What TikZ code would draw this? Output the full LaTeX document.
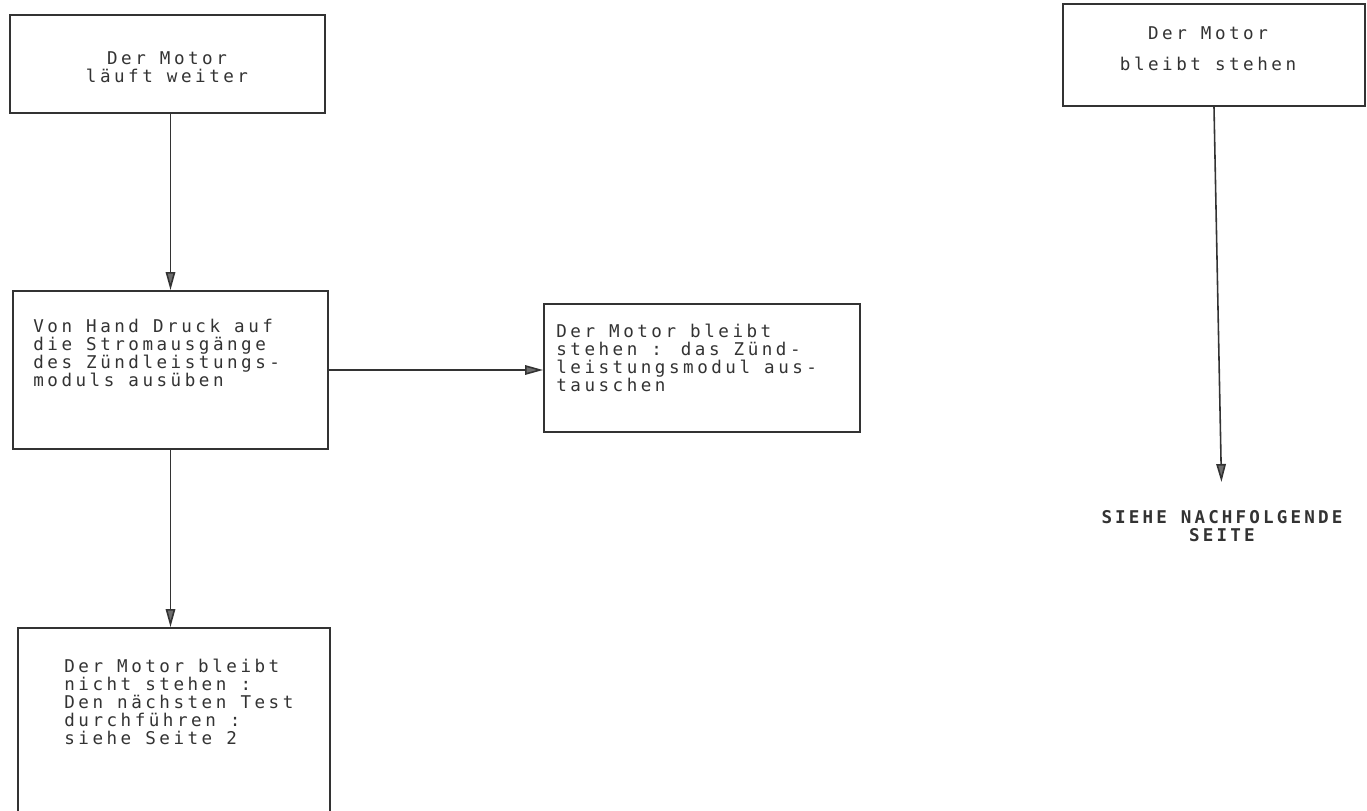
\documentclass[tikz,border=0pt]{standalone}
\usepackage{fontspec}
\usetikzlibrary{arrows.meta}
\newfontfamily\dotfont[LetterSpace=20]{DejaVu Sans Mono}
\newfontfamily\dotbold[LetterSpace=18]{DejaVu Sans Mono Bold}
\definecolor{ink}{HTML}{333333}
\definecolor{tipgray}{HTML}{6E6E6E}

\begin{document}
\begin{tikzpicture}[x=0.02cm,y=-0.02cm,
    box/.style={draw=ink,line width=1.1pt,inner sep=0pt},
    txt/.style={font=\dotfont\fontsize{10}{10.2}\selectfont,text=ink,inner sep=0pt,align=left},
    arr/.style={draw=ink,line width=0.9pt,-{Triangle[length=3.6mm,width=1.9mm,fill=tipgray]}}]
    \useasboundingbox[fill=white] (0,0) rectangle (1367,811);
    \begin{scope}
        \clip (0,0) rectangle (1367,811);
        % boxes
        \node[box,minimum width=6.3cm,minimum height=1.96cm] (run) at (167.5,64) {};
        \node[box,minimum width=6.3cm,minimum height=3.16cm] (press) at (170.5,370) {};
        \node[box,minimum width=6.32cm,minimum height=2.56cm] (swap) at (702,368) {};
        \node[box,minimum width=6.24cm,minimum height=4.24cm] (next) at (174,734) {};
        \node[box,minimum width=6.04cm,minimum height=2.04cm] (stop) at (1214,55) {};
    \end{scope}
    % texts
    \node[txt,anchor=north,align=center] (runtxt) at (167,51) {Der Motor\\läuft weiter};
    \node[txt,anchor=north west] (presstxt) at (33,319) {Von Hand Druck auf\\die Stromausgänge\\des Zündleistungs-\\moduls ausüben};
    \node[txt,anchor=north west] (swaptxt) at (556,324) {Der Motor bleibt\\stehen : das Zünd-\\leistungsmodul aus-\\tauschen};
    \node[txt,anchor=north west] (nexttxt) at (64,659) {Der Motor bleibt\\nicht stehen :\\Den nächsten Test\\durchführen :\\siehe Seite 2};
    \node[txt,anchor=north,align=center,font=\dotfont\fontsize{10}{18.1}\selectfont] (stoptxt) at (1208,26) {Der Motor\\bleibt stehen};
    \node[txt,anchor=north,align=center,font=\dotbold\fontsize{10}{10.2}\selectfont] (see) at (1222,510) {SIEHE NACHFOLGENDE\\SEITE};
    % arrows
    \draw[arr] (run.south -| press.north) -- (press.north);
    \draw[arr] (press.south) -- (press.south |- next.north);
    \draw[arr] (press.east) -- (press.east -| swap.west);
    \draw[arr,shorten >=0.56cm] (stop.south) -- (see.north);
\end{tikzpicture}
\end{document}
